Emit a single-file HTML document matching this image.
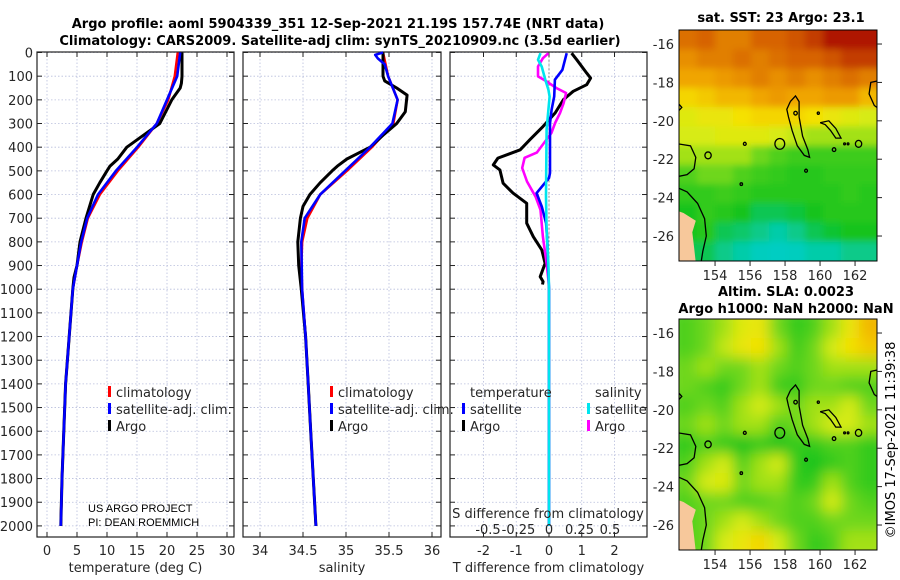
<!DOCTYPE html>
<html><head><meta charset="utf-8"><style>
html,body{margin:0;padding:0;background:#fff;}
svg{display:block;font-family:"DejaVu Sans","Liberation Sans",sans-serif;}
</style></head><body>
<svg id="fig" width="900" height="580" viewBox="0 0 900 580">
<defs>
<filter id="blur" x="0" y="0" width="1" height="1"><feGaussianBlur stdDeviation="7"/></filter>
<filter id="blurS" x="0" y="0" width="1" height="1"><feGaussianBlur stdDeviation="3.5"/></filter>
<clipPath id="clipSST"><rect x="679" y="30" width="198" height="231"/></clipPath>
<clipPath id="clipSLA"><rect x="679" y="319" width="198" height="231"/></clipPath>
</defs>
<g id="layer"></g>
</svg>
<script>
// ---------- data ----------
const depthTicks=[0,100,200,300,400,500,600,700,800,900,1000,1100,1200,1300,1400,1500,1600,1700,1800,1900,2000];
const tTicks=[0,5,10,15,20,25,30];
const sTicks=[34,34.5,35,35.5,36];
const dTicks=[-2,-1,0,1,2];
const dsTicks=[-0.5,-0.25,0,0.25,0.5];
const dsTickLabels=["-0.5","-0.25","0","0.25","0.5"];

const tClimDepth=[0,100,200,300,400,500,600,700,800,900,1000,1200,1400,1600,1800,2000];
const tClim=[21.8,21.3,20.2,18.3,15.2,11.8,8.8,6.8,5.8,5.0,4.3,3.7,3.1,2.8,2.5,2.3];
const tSat=[22.2,21.7,20.0,18.3,15.0,11.5,8.5,6.7,5.7,5.0,4.3,3.7,3.1,2.8,2.5,2.3];
const tArgoDepth=[0,100,130,150,200,300,400,450,480,500,550,600,700,800,900,950,1000,1200,1400,1600,1800,2000];
const tArgo=[22.5,22.5,22.4,22.2,20.8,18.8,13.3,11.8,10.5,10.0,8.8,7.7,6.5,5.5,5.0,4.5,4.3,3.7,3.1,2.8,2.5,2.3];

const sClimDepth=[0,100,200,300,400,500,600,700,800,900,1000,1200,1400,1600,1800,2000];
const sClim=[35.43,35.49,35.60,35.55,35.30,35.01,34.70,34.55,34.49,34.48,34.49,34.53,34.56,34.59,34.62,34.65];
const sSatDepth=[0,10,25,50,100,200,300,400,500,600,700,800,1000,1200,1400,1600,1800,2000];
const sSat=[35.43,35.34,35.37,35.45,35.49,35.60,35.54,35.28,34.99,34.70,34.52,34.48,34.49,34.53,34.56,34.59,34.62,34.65];
const sArgoDepth=[0,100,120,150,180,250,300,350,400,450,480,500,550,600,650,700,800,900,1000,1200,1400,1600,1800,2000];
const sArgo=[35.43,35.43,35.45,35.59,35.71,35.69,35.59,35.43,35.28,35.01,34.90,34.84,34.70,34.58,34.50,34.47,34.44,34.45,34.48,34.53,34.56,34.59,34.62,34.65];

const dtArgoDepth=[3,31,87,108,136,164,199,255,312,368,411,446,475,496,552,594,637,721,778,834,891,947,968,980];
const dtArgo=[0.69,0.85,1.15,1.27,1.15,0.74,0.44,0.19,-0.18,-0.58,-0.88,-1.56,-1.7,-1.5,-1.4,-1.1,-0.68,-0.68,-0.48,-0.22,-0.12,-0.27,-0.18,-0.2];
const dtSatDepth=[3,45,73,115,186,242,299,509,530,594,651,721,806,891,1000,1500,2000];
const dtSat=[0.54,0.46,0.41,0.18,0.16,0.08,0.03,0.03,0.0,-0.38,-0.22,-0.09,-0.05,-0.03,0,0,0];
const dsArgoDepth=[3,24,59,101,122,150,171,214,256,298,340,423,445,488,545,609,665,778,891,961,1000,2000];
const dsArgo=[-0.005,-0.05,-0.09,-0.09,-0.02,0.06,0.14,0.12,0.09,0.05,0.02,-0.1,-0.2,-0.22,-0.18,-0.11,-0.07,-0.05,-0.02,-0.005,0,0];
const dsSatDepth=[3,31,59,115,157,186,326,609,750,891,1000,2000];
const dsSat=[-0.07,-0.09,-0.06,-0.03,-0.005,0.005,-0.02,-0.025,-0.02,-0.005,0,0];

const sstGrid=[
[.88,.90,.85,.85,.90,.90,.92,.95,1,1,1],
[.82,.85,.85,.88,.85,.88,.90,.90,.92,.95,.95],
[.78,.78,.80,.82,.85,.82,.85,.82,.85,.88,.85],
[.70,.72,.75,.75,.78,.80,.78,.78,.80,.80,.75],
[.62,.65,.65,.68,.70,.70,.70,.68,.65,.62,.60],
[.60,.60,.62,.62,.62,.60,.58,.55,.55,.55,.55],
[.55,.55,.55,.55,.50,.45,.42,.42,.42,.42,.42],
[.45,.50,.50,.45,.42,.40,.38,.38,.40,.40,.40],
[.40,.40,.42,.40,.38,.38,.38,.38,.38,.40,.38],
[.35,.40,.38,.35,.30,.30,.32,.35,.38,.38,.38],
[.35,.38,.30,.28,.25,.22,.25,.30,.33,.35,.35],
[.30,.30,.25,.22,.20,.18,.20,.22,.22,.25,.25]];
const slaGrid=[
[.45,.50,.55,.62,.65,.50,.40,.45,.55,.65,.75],
[.45,.50,.58,.65,.68,.55,.42,.50,.60,.68,.72],
[.50,.55,.50,.50,.55,.50,.45,.50,.55,.55,.55],
[.50,.45,.40,.50,.55,.42,.40,.50,.50,.45,.45],
[.45,.50,.45,.55,.60,.55,.50,.55,.55,.60,.50],
[.50,.55,.50,.55,.55,.45,.50,.55,.60,.60,.55],
[.40,.45,.40,.35,.40,.35,.40,.40,.45,.45,.40],
[.45,.55,.60,.45,.55,.60,.40,.35,.40,.45,.40],
[.50,.60,.62,.50,.55,.55,.40,.40,.55,.45,.40],
[.45,.50,.50,.45,.45,.50,.45,.50,.60,.50,.45],
[.45,.50,.55,.60,.55,.50,.45,.45,.50,.50,.50],
[.45,.50,.60,.65,.70,.60,.50,.40,.45,.55,.55]];
const lonTicks=[154,156,158,160,162];
const latTicks=[-16,-18,-20,-22,-24,-26];

// ---------- helpers ----------
const NS="http://www.w3.org/2000/svg";
const L=document.getElementById('layer');
function mk(tag,attrs,parent){const e=document.createElementNS(NS,tag);for(const k in attrs)e.setAttribute(k,attrs[k]);(parent||L).appendChild(e);return e;}
function txt(x,y,s,opts,parent){const e=mk('text',Object.assign({x:x,y:y,'font-size':13,fill:'#262626'},opts||{}),parent);e.textContent=s;return e;}

const yD=d=>52.5+d*0.2367;
const xT=v=>47+6*v, xS=v=>303+86*(v-34.5), xD=v=>549+32.75*v, xDS=v=>549+122*v;
const panels=[{x0:37,x1:234,ticks:tTicks,f:xT,lab:'temperature (deg C)',name:'temperature-panel'},
{x0:243,x1:441,ticks:sTicks,f:xS,lab:'salinity',name:'salinity-panel'},
{x0:450,x1:647,ticks:dTicks,f:xD,lab:'T difference from climatology',name:'difference-panel'}];
const yTop=52,yBot=537;

panels.forEach((p,i)=>{
  const g=mk('g',{});
  
  
  depthTicks.forEach(d=>{const y=yD(d);
    mk('line',{x1:p.x0,x2:p.x1,y1:y,y2:y,stroke:'#b8bedc','stroke-width':0.8,'stroke-dasharray':'1.5,2'},g);
    mk('line',{x1:p.x0,x2:p.x0+5,y1:y,y2:y,stroke:'#222'},g);
    mk('line',{x1:p.x1-5,x2:p.x1,y1:y,y2:y,stroke:'#222'},g);
    if(i===0){const t=txt(33,y+5,String(d),{'text-anchor':'end'},g);
      
      }
  });
  p.ticks.forEach(v=>{const x=p.f(v);
    mk('line',{x1:x,x2:x,y1:yTop,y2:yBot,stroke:'#b8bedc','stroke-width':0.8,'stroke-dasharray':'1.5,2'},g);
    mk('line',{x1:x,x2:x,y1:yBot-5,y2:yBot,stroke:'#222'},g);
    mk('line',{x1:x,x2:x,y1:yTop,y2:yTop+5,stroke:'#222'},g);
    const t=txt(x,555,String(v),{'text-anchor':'middle'},g);
    
    
  });
  mk('rect',{x:p.x0,y:yTop,width:p.x1-p.x0,height:yBot-yTop,fill:'none',stroke:'#222','stroke-width':1.2},g);
  const xl=txt((p.x0+p.x1)/2,572,p.lab,{'text-anchor':'middle'},g);
  
  
});

function line(depths,vals,f,color,name,w){
  const pts=depths.map((d,i)=>f(vals[i]).toFixed(1)+','+yD(d).toFixed(1)).join(' ');
  const e=mk('polyline',{points:pts,fill:'none',stroke:color,'stroke-width':w||2.6,'stroke-linejoin':'round'});
  
  
}
line(tClimDepth,tClim,xT,'#ff0000','temperature-climatology-line');
line(tArgoDepth,tArgo,xT,'#000000','temperature-argo-line',3);
line(tClimDepth,tSat,xT,'#0000ff','temperature-satellite-line');
line(sClimDepth,sClim,xS,'#ff0000','salinity-climatology-line');
line(sArgoDepth,sArgo,xS,'#000000','salinity-argo-line',3);
line(sSatDepth,sSat,xS,'#0000ff','salinity-satellite-line');
mk('line',{x1:549,x2:549,y1:yD(0),y2:yD(1000),stroke:'#444','stroke-width':1,'stroke-dasharray':'1,3'});
line(dtArgoDepth,dtArgo,xD,'#000000','t-diff-argo-line',3);
line(dsArgoDepth,dsArgo,xDS,'#ff00ff','s-diff-argo-line');
line(dtSatDepth,dtSat,xD,'#0000ff','t-diff-satellite-line');
line(dsSatDepth,dsSat,xDS,'#00e5ee','s-diff-satellite-line');

const sd=txt(548,518,'S difference from climatology',{'text-anchor':'middle'});


dsTicks.forEach((v,i)=>{const t=txt(xDS(v),534,dsTickLabels[i],{'text-anchor':'middle'});
  
  });

function legend(x,y,color,label,name){
  const g=mk('g',{});
  
  
  if(color) mk('rect',{x:x,y:y-11,width:3,height:11,fill:color},g);
  txt(x+8,y,label,{},g);
}
legend(108,397,'#ff0000','climatology','legend-climatology');
legend(108,414,'#0000ff','satellite-adj. clim.','legend-satellite-adj');
legend(108,431,'#000000','Argo','legend-argo');
legend(330,397,'#ff0000','climatology','legend-climatology-salinity');
legend(330,414,'#0000ff','satellite-adj. clim.','legend-satellite-adj-salinity');
legend(330,431,'#000000','Argo','legend-argo-salinity');
legend(462,397,null,'temperature','legend-temperature-header');
legend(462,414,'#0000ff','satellite','legend-t-satellite');
legend(462,431,'#000000','Argo','legend-t-argo');
legend(587,397,null,'salinity','legend-salinity-header');
legend(587,414,'#00e5ee','satellite','legend-s-satellite');
legend(587,431,'#ff00ff','Argo','legend-s-argo');

const c1=txt(88,512,'US ARGO PROJECT',{'font-size':11,'font-family':'Liberation Sans Narrow, Liberation Sans, sans-serif',fill:'#000'});


const c2=txt(88,526,'PI: DEAN ROEMMICH',{'font-size':11,'font-family':'Liberation Sans Narrow, Liberation Sans, sans-serif',fill:'#000'});



const t1=txt(338,28,'Argo profile: aoml 5904339_351 12-Sep-2021 21.19S 157.74E (NRT data)',{'text-anchor':'middle','font-weight':'bold',fill:'#000'});


const t2=txt(340,45,'Climatology: CARS2009. Satellite-adj clim: synTS_20210909.nc (3.5d earlier)',{'text-anchor':'middle','font-weight':'bold',fill:'#000'});



// ---------- maps ----------
const stops=[[0,[0,200,230]],[0.2,[0,205,190]],[0.35,[20,195,30]],[0.5,[110,215,30]],[0.6,[215,235,20]],[0.68,[245,225,0]],[0.78,[240,165,0]],[0.9,[215,100,0]],[1,[175,20,0]]];
function cmap(v){for(let i=1;i<stops.length;i++){if(v<=stops[i][0]){const a=stops[i-1],b=stops[i],t=(v-a[0])/(b[0]-a[0]);
  return 'rgb('+a[1].map((c,k)=>Math.round(c+(b[1][k]-c)*t)).join(',')+')';}}return 'rgb(175,20,0)';}
const lon0=151.94,lat0=-15.27;
function mx(lon){return 679+(lon-lon0)*17.5;}
function my(lat,t0){return t0+(lat0-lat)*19.2;}

const coastPolys=[
[[158.3,-19.0],[158.6,-18.7],[158.8,-19.0],[158.8,-19.8],[159.0,-20.8],[159.3,-21.5],[159.4,-21.9],[159.1,-21.8],[158.7,-21.3],[158.4,-20.5],[158.2,-19.8],[158.1,-19.4],[158.3,-19.0]],
[[160.0,-20.1],[160.5,-20.0],[160.9,-20.4],[161.2,-20.9],[160.9,-20.9],[160.6,-20.5],[160.3,-20.2],[160.0,-20.1]],
[[163.4,-17.9],[162.9,-18.0],[162.8,-18.6],[163.1,-19.2],[163.4,-19.4]],
[[151.9,-21.2],[152.6,-21.3],[152.9,-21.9],[152.8,-22.5],[152.4,-22.8],[151.9,-22.9]],
[[151.9,-23.5],[152.4,-23.7],[153.0,-24.3],[153.4,-25.1],[153.5,-26.0],[153.3,-26.8],[153.2,-27.4]],
[[151.9,-19.1],[152.1,-19.3],[151.9,-19.5]]];
const islets=[[157.7,-21.2,0.28],[162.2,-21.2,0.18],[153.6,-21.8,0.18],[155.7,-21.2,0.08],[155.5,-23.3,0.07],[159.2,-22.6,0.08],[159.9,-19.6,0.06],[161.4,-21.2,0.05],[161.6,-21.2,0.05],[160.8,-21.5,0.1],[158.6,-19.6,0.1]];
const landPoly=[[151.9,-24.7],[152.2,-24.8],[152.9,-25.2],[152.7,-25.8],[152.8,-26.6],[152.9,-27.4],[151.9,-27.4]];

function drawMap(t0,grid,clip,filt,name){
  const g=mk('g',{'clip-path':'url(#'+clip+')'});
  
  
  const inner=mk('g',{filter:'url(#'+filt+')'},g);
  const rows=grid.length,cols=grid[0].length,cw=198/cols,ch=231/rows;
  mk('rect',{x:669,y:t0-10,width:218,height:251,fill:cmap(grid[rows-1][0])},inner);
  grid.forEach((row,r)=>row.forEach((v,c)=>{
    const ext=(c===0?-12:0);
    mk('rect',{x:679+c*cw+ext,y:t0+r*ch-(r===0?12:0),width:cw+0.6-ext+(c===cols-1?12:0),height:ch+0.6+((r===0||r===rows-1)?12:0),fill:cmap(v)},inner);
  }));
  const lp=landPoly.map(p=>mx(p[0]).toFixed(1)+','+my(p[1],t0).toFixed(1)).join(' ');
  mk('polygon',{points:lp,fill:'#f7c89b',stroke:'none'},g);
  coastPolys.forEach(poly=>{
    mk('polyline',{points:poly.map(p=>mx(p[0]).toFixed(1)+','+my(p[1],t0).toFixed(1)).join(' '),fill:'none',stroke:'#000','stroke-width':1.3},g);
  });
  islets.forEach(s=>{mk('ellipse',{cx:mx(s[0]),cy:my(s[1],t0),rx:s[2]*17.5,ry:s[2]*19.2,fill:'none',stroke:'#000','stroke-width':1.3},g);});
  mk('rect',{x:679,y:t0,width:198,height:231,fill:'none',stroke:'#000','stroke-width':1},L);
  latTicks.forEach(lat=>{const y=my(lat,t0);
    mk('line',{x1:877,x2:882,y1:y,y2:y,stroke:'#222'});
    const t=txt(674,y+5,String(lat),{'text-anchor':'end'});
    
    });
  lonTicks.forEach(lon=>{const x=mx(lon);
    mk('line',{x1:x,x2:x,y1:t0+231,y2:t0+236,stroke:'#222'});
    const t=txt(x,t0+250,String(lon),{'text-anchor':'middle'});
    
    });
}
drawMap(30,sstGrid,'clipSST','blurS','sst-map');
drawMap(319,slaGrid,'clipSLA','blur','sla-map');

const m1=txt(781,22,'sat. SST: 23 Argo: 23.1',{'text-anchor':'middle','font-weight':'bold',fill:'#000'});


const m2=txt(786,296,'Altim. SLA: 0.0023',{'text-anchor':'middle','font-weight':'bold',fill:'#000'});


const m3=txt(786,313,'Argo h1000: NaN h2000: NaN',{'text-anchor':'middle','font-weight':'bold',fill:'#000'});


const cr=txt(0,0,'©IMOS 17-Sep-2021 11:39:38',{'text-anchor':'middle',transform:'translate(895,440) rotate(-90)',fill:'#000'});


</script>
</body></html>
